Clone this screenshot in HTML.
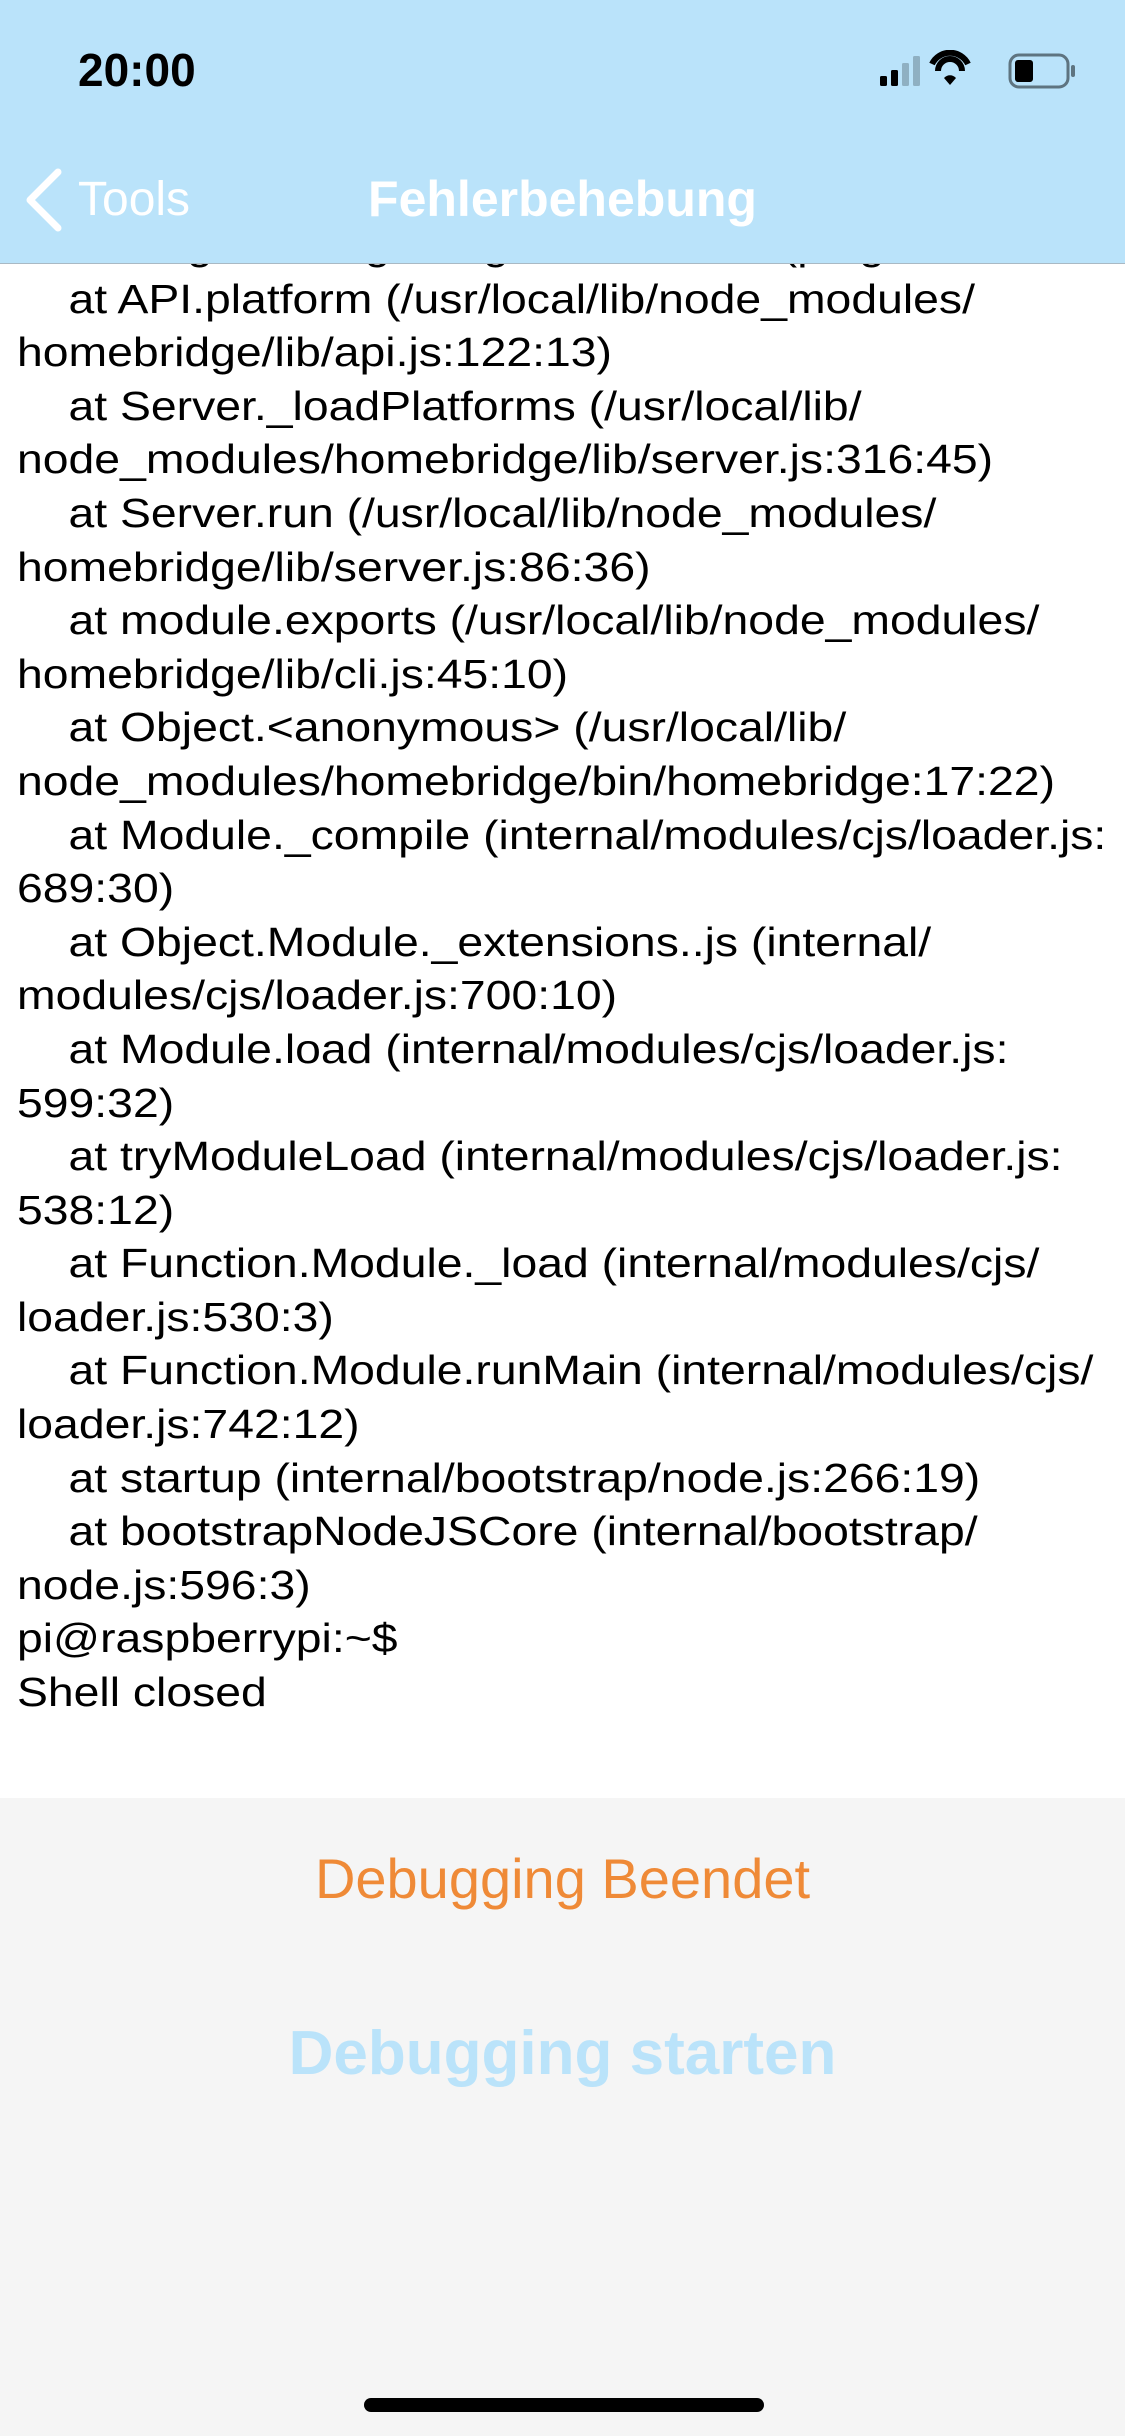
<!DOCTYPE html>
<html><head><meta charset="utf-8"><style>
html,body{margin:0;padding:0}
body{width:1125px;height:2436px;position:relative;overflow:hidden;background:#f5f5f5;font-family:"Liberation Sans",sans-serif}
#hdr{position:absolute;left:0;top:0;width:1125px;height:263px;background:#bae3fa;border-bottom:1.5px solid #a9b9c4;z-index:2}
#log{position:absolute;left:0;top:0;width:1125px;height:1798px;background:#fff;overflow:hidden}
#txt{position:absolute;left:17px;top:219px;font-size:41px;line-height:53.6px;color:#000;white-space:pre;transform:scaleX(1.13);transform-origin:0 0}
.b{position:absolute;width:100%;text-align:center}
</style></head><body>
<div id="log"><div id="txt">    at PluginManager.registerPlatform (plugin
    at API.platform (/usr/local/lib/node_modules/
homebridge/lib/api.js:122:13)
    at Server._loadPlatforms (/usr/local/lib/
node_modules/homebridge/lib/server.js:316:45)
    at Server.run (/usr/local/lib/node_modules/
homebridge/lib/server.js:86:36)
    at module.exports (/usr/local/lib/node_modules/
homebridge/lib/cli.js:45:10)
    at Object.&lt;anonymous&gt; (/usr/local/lib/
node_modules/homebridge/bin/homebridge:17:22)
    at Module._compile (internal/modules/cjs/loader.js:
689:30)
    at Object.Module._extensions..js (internal/
modules/cjs/loader.js:700:10)
    at Module.load (internal/modules/cjs/loader.js:
599:32)
    at tryModuleLoad (internal/modules/cjs/loader.js:
538:12)
    at Function.Module._load (internal/modules/cjs/
loader.js:530:3)
    at Function.Module.runMain (internal/modules/cjs/
loader.js:742:12)
    at startup (internal/bootstrap/node.js:266:19)
    at bootstrapNodeJSCore (internal/bootstrap/
node.js:596:3)
pi@raspberrypi:~$
Shell closed</div></div>
<div id="hdr">
  <div style="position:absolute;left:78px;top:43px;font-size:46px;font-weight:bold;color:#000">20:00</div>
  <svg style="position:absolute;left:880px;top:50px" width="200" height="42" viewBox="0 0 200 42">
    <rect x="0" y="26" width="7" height="10" rx="1.5" fill="#000"/>
    <rect x="11" y="20" width="7" height="16" rx="1.5" fill="#000"/>
    <rect x="22" y="13" width="7" height="23" rx="1.5" fill="#8fb0c2"/>
    <rect x="33" y="6" width="7" height="30" rx="1.5" fill="#8fb0c2"/>
    <path d="M52 14 A20 20 0 0 1 88 14" stroke="#000" stroke-width="6" fill="none"/>
    <path d="M58 21 A12 12 0 0 1 82 21" stroke="#000" stroke-width="6" fill="none"/>
    <path d="M64 28 L70 35 L76 28 A8 8 0 0 0 64 28Z" fill="#000"/>
    <rect x="130" y="5" width="58" height="32" rx="9" stroke="#5e7480" stroke-width="3" fill="none"/>
    <rect x="135" y="10" width="18" height="22" rx="3" fill="#000"/>
    <rect x="191" y="15" width="4" height="12" rx="2" fill="#5e7480"/>
  </svg>
  <svg style="position:absolute;left:24px;top:168px" width="40" height="64" viewBox="0 0 40 64"><path d="M34 4 L6 32 L34 60" stroke="#fff" stroke-width="7" fill="none" stroke-linecap="round" stroke-linejoin="round"/></svg>
  <div style="position:absolute;left:78px;top:172px;font-size:48px;color:#fff">Tools</div>
  <div style="position:absolute;left:0;width:1125px;top:170px;text-align:center;font-size:50px;font-weight:bold;color:#fff">Fehlerbehebung</div>
</div>
<div class="b" style="top:1846px;font-size:56px;color:#ef8a37">Debugging Beendet</div>
<div class="b" style="top:2018px;font-size:62px;font-weight:bold;color:#bae3fa">Debugging starten</div>
<div style="position:absolute;left:364px;top:2398px;width:400px;height:14px;border-radius:7px;background:#000"></div>
</body></html>
